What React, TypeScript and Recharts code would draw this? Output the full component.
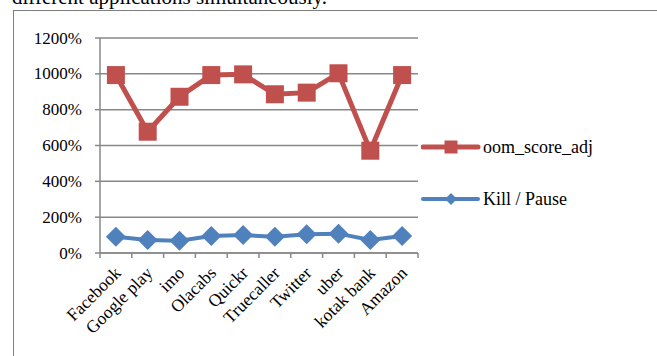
import { CartesianGrid, Line, LineChart, XAxis, YAxis } from "recharts";

const apps = [
  "Facebook",
  "Google play",
  "imo",
  "Olacabs",
  "Quickr",
  "Truecaller",
  "Twitter",
  "uber",
  "kotak bank",
  "Amazon",
];
const oomScoreAdj = [993, 677, 872, 993, 997, 886, 895, 1003, 571, 993];
const killPause = [91, 73, 69, 95, 100, 91, 104, 108, 73, 95];
const yTicks = [0, 200, 400, 600, 800, 1000, 1200];

const data = apps.map((name, i) => ({
  name,
  oom: oomScoreAdj[i],
  kill: killPause[i],
}));

const RED = "#C0504D";
const BLUE = "#4F81BD";
const GRID = "#888888";
const FONT = "'Liberation Serif', 'Times New Roman', serif";

const PLOT_LEFT = 100;
const PLOT_RIGHT = 418;
const STEP = (PLOT_RIGHT - PLOT_LEFT) / apps.length;

function CategoryTick(props: any) {
  const { x, y, payload, index } = props;
  const ax = x + 6;
  const ay = y + 21;
  return (
    <g>
      <line x1={x - STEP / 2} x2={x - STEP / 2} y1={y} y2={y + 5} stroke={GRID} strokeWidth={1.5} />
      {index === apps.length - 1 && (
        <line x1={x + STEP / 2} x2={x + STEP / 2} y1={y} y2={y + 5} stroke={GRID} strokeWidth={1.5} />
      )}
      <text
        x={ax}
        y={ay}
        textAnchor="end"
        fontSize={17.5}
        fontFamily={FONT}
        fill="#000"
        transform={`rotate(-45 ${ax} ${ay})`}
      >
        {payload.value}
      </text>
    </g>
  );
}

function ValueTick(props: any) {
  const { x, y, payload } = props;
  return (
    <text x={x} y={y} dy={5.5} textAnchor="end" fontSize={17} fontFamily={FONT} fill="#000">
      {`${payload.value}%`}
    </text>
  );
}

function SquareDot(props: any) {
  const { cx, cy, index } = props;
  const s = 18;
  return <rect key={`sq-${index}`} x={cx - s / 2} y={cy - s / 2} width={s} height={s} fill={RED} />;
}

function DiamondDot(props: any) {
  const { cx, cy, index } = props;
  const r = 10;
  return (
    <path
      key={`dm-${index}`}
      d={`M${cx} ${cy - r} L${cx + r} ${cy} L${cx} ${cy + r} L${cx - r} ${cy} Z`}
      fill={BLUE}
    />
  );
}

function LegendRow({ color, label, marker, top }: { color: string; label: string; marker: "square" | "diamond"; top: number }) {
  return (
    <div style={{ position: "absolute", left: 421, top: top - 10, height: 20, display: "flex", alignItems: "center" }}>
      <svg width={60} height={20}>
        <line x1={2} x2={57} y1={10} y2={10} stroke={color} strokeWidth={marker === "square" ? 5 : 4} strokeLinecap="round" />
        {marker === "square" ? (
          <rect x={23.5} y={3.5} width={13} height={13} fill={color} />
        ) : (
          <path d="M30 4 L36 10 L30 16 L24 10 Z" fill={color} />
        )}
      </svg>
      <span style={{ fontFamily: FONT, fontSize: 18, color: "#000", marginLeft: 2 }}>{label}</span>
    </div>
  );
}

export default function App() {
  return (
    <div style={{ position: "absolute", left: 0, top: 0, width: 657, height: 356, overflow: "hidden", background: "#fff" }}>
      <div
        style={{
          position: "absolute",
          left: 12,
          top: -13,
          fontFamily: FONT,
          fontSize: 21,
          lineHeight: "21px",
          whiteSpace: "nowrap",
          color: "#000",
        }}
      >
        different applications simultaneously.
      </div>
      <div
        style={{
          position: "absolute",
          left: 13,
          top: 10,
          width: 660,
          height: 360,
          borderLeft: "1.5px solid #7f7f7f",
          borderTop: "1.5px solid #7f7f7f",
        }}
      />
      <div style={{ position: "absolute", left: 0, top: 0 }}>
        <LineChart
          width={657}
          height={356}
          data={data}
          style={{ fontFamily: FONT }}
          margin={{ top: 38, right: 657 - PLOT_RIGHT, left: 13, bottom: 0 }}
        >
          <CartesianGrid vertical={false} stroke={GRID} strokeWidth={1.5} />
          <XAxis
            dataKey="name"
            scale="band"
            height={103}
            interval={0}
            tickSize={0}
            tickMargin={0}
            tickLine={false}
            axisLine={{ stroke: GRID, strokeWidth: 1.5 }}
            tick={<CategoryTick />}
          />
          <YAxis
            width={87}
            domain={[0, 1200]}
            ticks={yTicks}
            tickSize={5}
            tickMargin={13}
            tickLine={{ stroke: GRID, strokeWidth: 1.5 }}
            axisLine={{ stroke: GRID, strokeWidth: 1.5 }}
            tick={<ValueTick />}
          />
          <Line
            dataKey="oom"
            stroke={RED}
            strokeWidth={5}
            dot={SquareDot}
            activeDot={false}
            isAnimationActive={false}
          />
          <Line
            dataKey="kill"
            stroke={BLUE}
            strokeWidth={4}
            dot={DiamondDot}
            activeDot={false}
            isAnimationActive={false}
          />
        </LineChart>
      </div>
      <LegendRow color={RED} label="oom_score_adj" marker="square" top={147} />
      <LegendRow color={BLUE} label="Kill / Pause" marker="diamond" top={199} />
    </div>
  );
}
